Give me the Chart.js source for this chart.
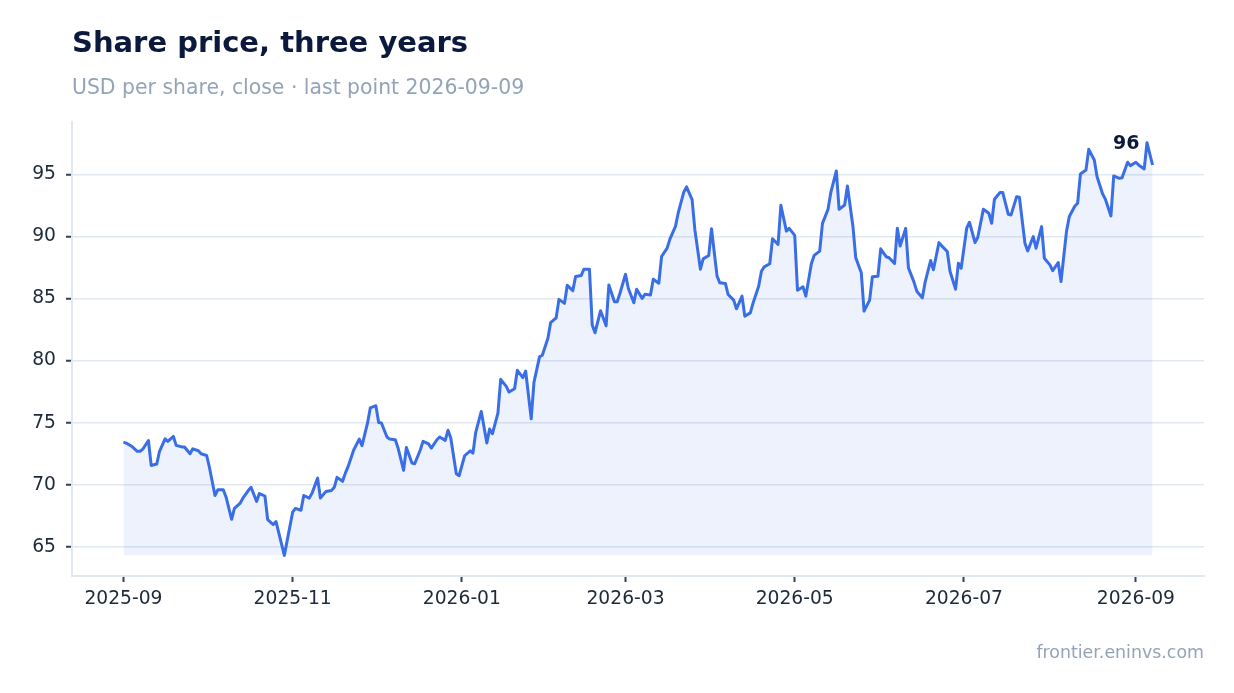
<!DOCTYPE html>
<html lang="en">
  <head>
    <meta charset="UTF-8" />
    <title>Share price, three years</title>
    <script src="https://cdn.jsdelivr.net/npm/chart.js"></script>
    <style>
      body {
        margin: 0;
        background: #fff;
        font-family: "DejaVu Sans", sans-serif;
      }
      .wrap {
        position: relative;
        width: 1234px;
        height: 693px;
      }
      .title {
        position: absolute;
        left: 72px;
        top: 27.5px;
        font-size: 29px;
        line-height: 1;
        font-weight: bold;
        color: #0b1a3c;
        white-space: nowrap;
      }
      .subtitle {
        position: absolute;
        left: 72px;
        top: 76.7px;
        font-size: 20.4px;
        line-height: 1;
        color: #94a3b8;
        white-space: nowrap;
      }
      .source {
        position: absolute;
        right: 30px;
        top: 643.5px;
        font-size: 17.4px;
        line-height: 1;
        color: #94a3b8;
      }
      canvas {
        position: absolute;
        left: 0;
        top: 0;
      }
    </style>
  </head>
  <body>
    <div class="wrap">
      <canvas id="chart" width="1234" height="693"></canvas>
      <div class="title">Share price, three years</div>
      <div class="subtitle">USD per share, close · last point 2026-09-09</div>
      <div class="source">frontier.eninvs.com</div>
    </div>

    <script>
      // days counted from 2025-09-01
      const days = [
        0, 1, 3, 5, 6, 7, 9, 10, 12, 13, 15, 16, 18, 19, 21, 22, 24, 25, 27, 28,
        30, 31, 33, 34, 36, 37, 39, 40, 42, 43, 45, 46, 48, 49, 51, 52, 54, 55, 58,
        61, 62, 64, 65, 67, 68, 70, 71, 73, 75, 76, 77, 79, 80, 81, 83, 85, 86, 88, 89,
        91, 92, 93, 95, 96, 98, 99, 101, 102, 104, 105, 107, 108, 110, 111, 113, 114, 116, 117, 118,
        120, 121, 123, 125, 126, 127, 129, 131, 132, 133, 135,
        136, 138, 139, 141, 142, 144, 145, 147, 148, 150, 151, 153, 154, 156, 157, 159, 160, 162, 163, 165,
        166, 168, 169, 170, 172, 174, 175, 177, 178, 179, 181, 182, 184, 185, 187, 188, 190, 191, 193, 194,
        196, 197, 199, 200, 202, 203, 205, 206, 208, 209, 211, 212,
        214, 215, 217, 218, 220, 221, 223, 224, 226, 227, 229, 230, 231, 233, 234, 236, 237, 239, 240, 242,
        243, 245, 246, 248, 249, 251, 252, 254, 255, 257, 258, 260, 261, 263, 264, 266, 267, 269, 270, 272,
        273, 275, 276, 278, 279, 280, 282, 283, 285, 286, 288,
        289, 291, 292, 294, 295, 297, 298, 300, 301, 302, 304, 305, 307, 308, 310, 312, 313, 314, 316, 317,
        319, 320, 322, 323, 325, 326, 328, 329, 331, 332, 334, 335, 337, 338, 340, 341, 343, 344, 345, 347,
        348, 350, 351, 353, 354, 356, 357, 359, 360, 362, 363, 365, 366, 368, 369, 371
      ];

      // close price, USD
      const prices = [
        73.44, 73.36, 73.1, 72.7, 72.7, 72.88, 73.57, 71.56, 71.67, 72.7,
        73.7, 73.5, 73.9, 73.18, 73.05, 73.05, 72.5, 72.9, 72.74, 72.5,
        72.36, 71.4, 69.14, 69.6, 69.6, 69.0, 67.22, 68.1, 68.5, 68.9,
        69.54, 69.8, 68.66, 69.3, 69.1, 67.2, 66.8, 67.04, 64.32,
        67.8, 68.1, 67.95, 69.14, 68.93, 69.33, 70.54, 68.93, 69.47, 69.55,
        69.8, 70.6, 70.28, 70.94, 71.48, 72.8, 73.68, 73.15, 74.98, 76.2,
        76.37, 75.02, 74.98, 73.85, 73.68, 73.63, 72.96, 71.16, 73.0, 71.75,
        71.7, 72.8, 73.5, 73.3, 72.96, 73.63, 73.85, 73.58, 74.39, 73.77,
        70.89, 70.73, 72.34, 72.74, 72.55, 74.23, 75.91, 73.36, 74.49, 74.11, 75.78,
        78.49, 77.92, 77.47, 77.74, 79.22, 78.63, 79.16, 75.31, 78.27, 80.3,
        80.43, 81.78, 83.05, 83.45, 84.93, 84.61, 86.06, 85.63, 86.77, 86.85,
        87.36, 87.36, 82.86, 82.24, 84.02, 82.8, 86.09, 84.74, 84.74, 85.42,
        86.95, 85.82, 84.66, 85.74, 85.01, 85.34, 85.28, 86.55, 86.23, 88.38,
        89.06, 89.78, 90.81, 91.89, 93.56, 93.99, 92.96, 90.54, 87.36, 88.19,
        88.46, 90.62,
        86.8, 86.26, 86.21, 85.32, 84.87, 84.17, 85.19, 83.58, 83.84, 84.65,
        85.99, 87.2, 87.55, 87.8, 89.81, 89.35, 92.5, 90.43, 90.65, 90.08,
        85.67, 85.94, 85.19, 87.8, 88.47, 88.82, 91.05, 92.18, 93.52, 95.27,
        92.18, 92.53, 94.06, 90.78, 88.28, 87.07, 83.98, 84.87, 86.75, 86.8,
        89.0, 88.36, 88.28, 87.82, 90.65, 89.22, 90.65, 87.47, 86.32, 85.59, 85.05,
        86.3, 88.06, 87.31, 89.5, 89.24, 88.78, 87.17, 85.75, 87.84, 87.44,
        90.66, 91.14, 89.5, 89.93, 92.18, 91.86, 91.06, 92.99, 93.53, 93.53,
        91.78, 91.73, 93.2, 93.15, 89.45, 88.83, 89.99, 89.05, 90.79, 88.24,
        87.71, 87.25, 87.9, 86.37, 90.44, 91.6, 92.45, 92.67, 95.03, 95.35,
        97.01, 96.15, 94.81, 93.42, 92.99, 91.65, 94.87, 94.68, 94.73, 95.97,
        95.7, 95.97, 95.75, 95.43, 97.55, 95.75
      ];

      // x axis: month starts, as days from 2025-09-01
      const tickDays = [0, 61, 122, 181, 242, 303, 365];
      const tickLabels = ["2025-09", "2025-11", "2026-01", "2026-03", "2026-05", "2026-07", "2026-09"];
      const yTicks = [65, 70, 75, 80, 85, 90, 95];

      const ink = "#1e293b";
      const tickMark = "#334155";
      const rule = "#e2e8f0";
      const blue = "#3a6ee6";

      const lo = Math.min(...prices);
      const hi = Math.max(...prices);
      const span = days[days.length - 1] - days[0];

      // label on the last close
      const lastLabel = {
        id: "lastLabel",
        afterDatasetsDraw(chart) {
          const pts = chart.getDatasetMeta(0).data;
          const p = pts[pts.length - 1];
          const ctx = chart.ctx;
          ctx.save();
          ctx.font = "bold 19px 'DejaVu Sans'";
          ctx.fillStyle = "#0b1a3c";
          ctx.textAlign = "right";
          ctx.textBaseline = "alphabetic";
          ctx.fillText(String(Math.round(prices[prices.length - 1])), p.x - 13, p.y - 16);
          ctx.restore();
        },
      };

      new Chart(document.getElementById("chart"), {
        type: "line",
        data: {
          datasets: [
            {
              data: days.map((d, i) => ({ x: d, y: prices[i] })),
              borderColor: blue,
              borderWidth: 3,
              borderJoinStyle: "round",
              pointRadius: 0,
              tension: 0,
              fill: { value: lo },
              backgroundColor: "rgba(58, 110, 230, 0.09)",
            },
          ],
        },
        options: {
          responsive: false,
          animation: false,
          layout: { padding: { top: 122, right: 30, left: 0, bottom: 0 } },
          plugins: { legend: { display: false }, tooltip: { enabled: false } },
          scales: {
            x: {
              type: "linear",
              min: days[0] - span * 0.05,
              max: days[days.length - 1] + span * 0.05,
              afterBuildTicks: (s) => {
                s.ticks = tickDays.map((v) => ({ value: v }));
              },
              afterFit: (s) => {
                s.height = 117;
              },
              ticks: {
                autoSkip: false,
                maxRotation: 0,
                padding: 6,
                color: ink,
                font: { family: "DejaVu Sans", size: 18.7 },
                callback: (v) => tickLabels[tickDays.indexOf(v)],
              },
              grid: {
                drawOnChartArea: false,
                tickLength: 6,
                tickColor: tickMark,
                tickWidth: 2,
              },
              border: { color: rule, width: 2 },
            },
            y: {
              min: lo - (hi - lo) * 0.05,
              max: hi + (hi - lo) * 0.05,
              afterBuildTicks: (s) => {
                s.ticks = yTicks.map((v) => ({ value: v }));
              },
              afterFit: (s) => {
                s.width = 72;
              },
              ticks: {
                padding: 10,
                color: ink,
                font: { family: "DejaVu Sans", size: 18.7 },
              },
              grid: {
                color: rule,
                lineWidth: 1.5,
                tickLength: 6,
                tickColor: tickMark,
                tickWidth: 2,
              },
              border: { color: rule, width: 2 },
            },
          },
        },
        plugins: [lastLabel],
      });
    </script>
  </body>
</html>
